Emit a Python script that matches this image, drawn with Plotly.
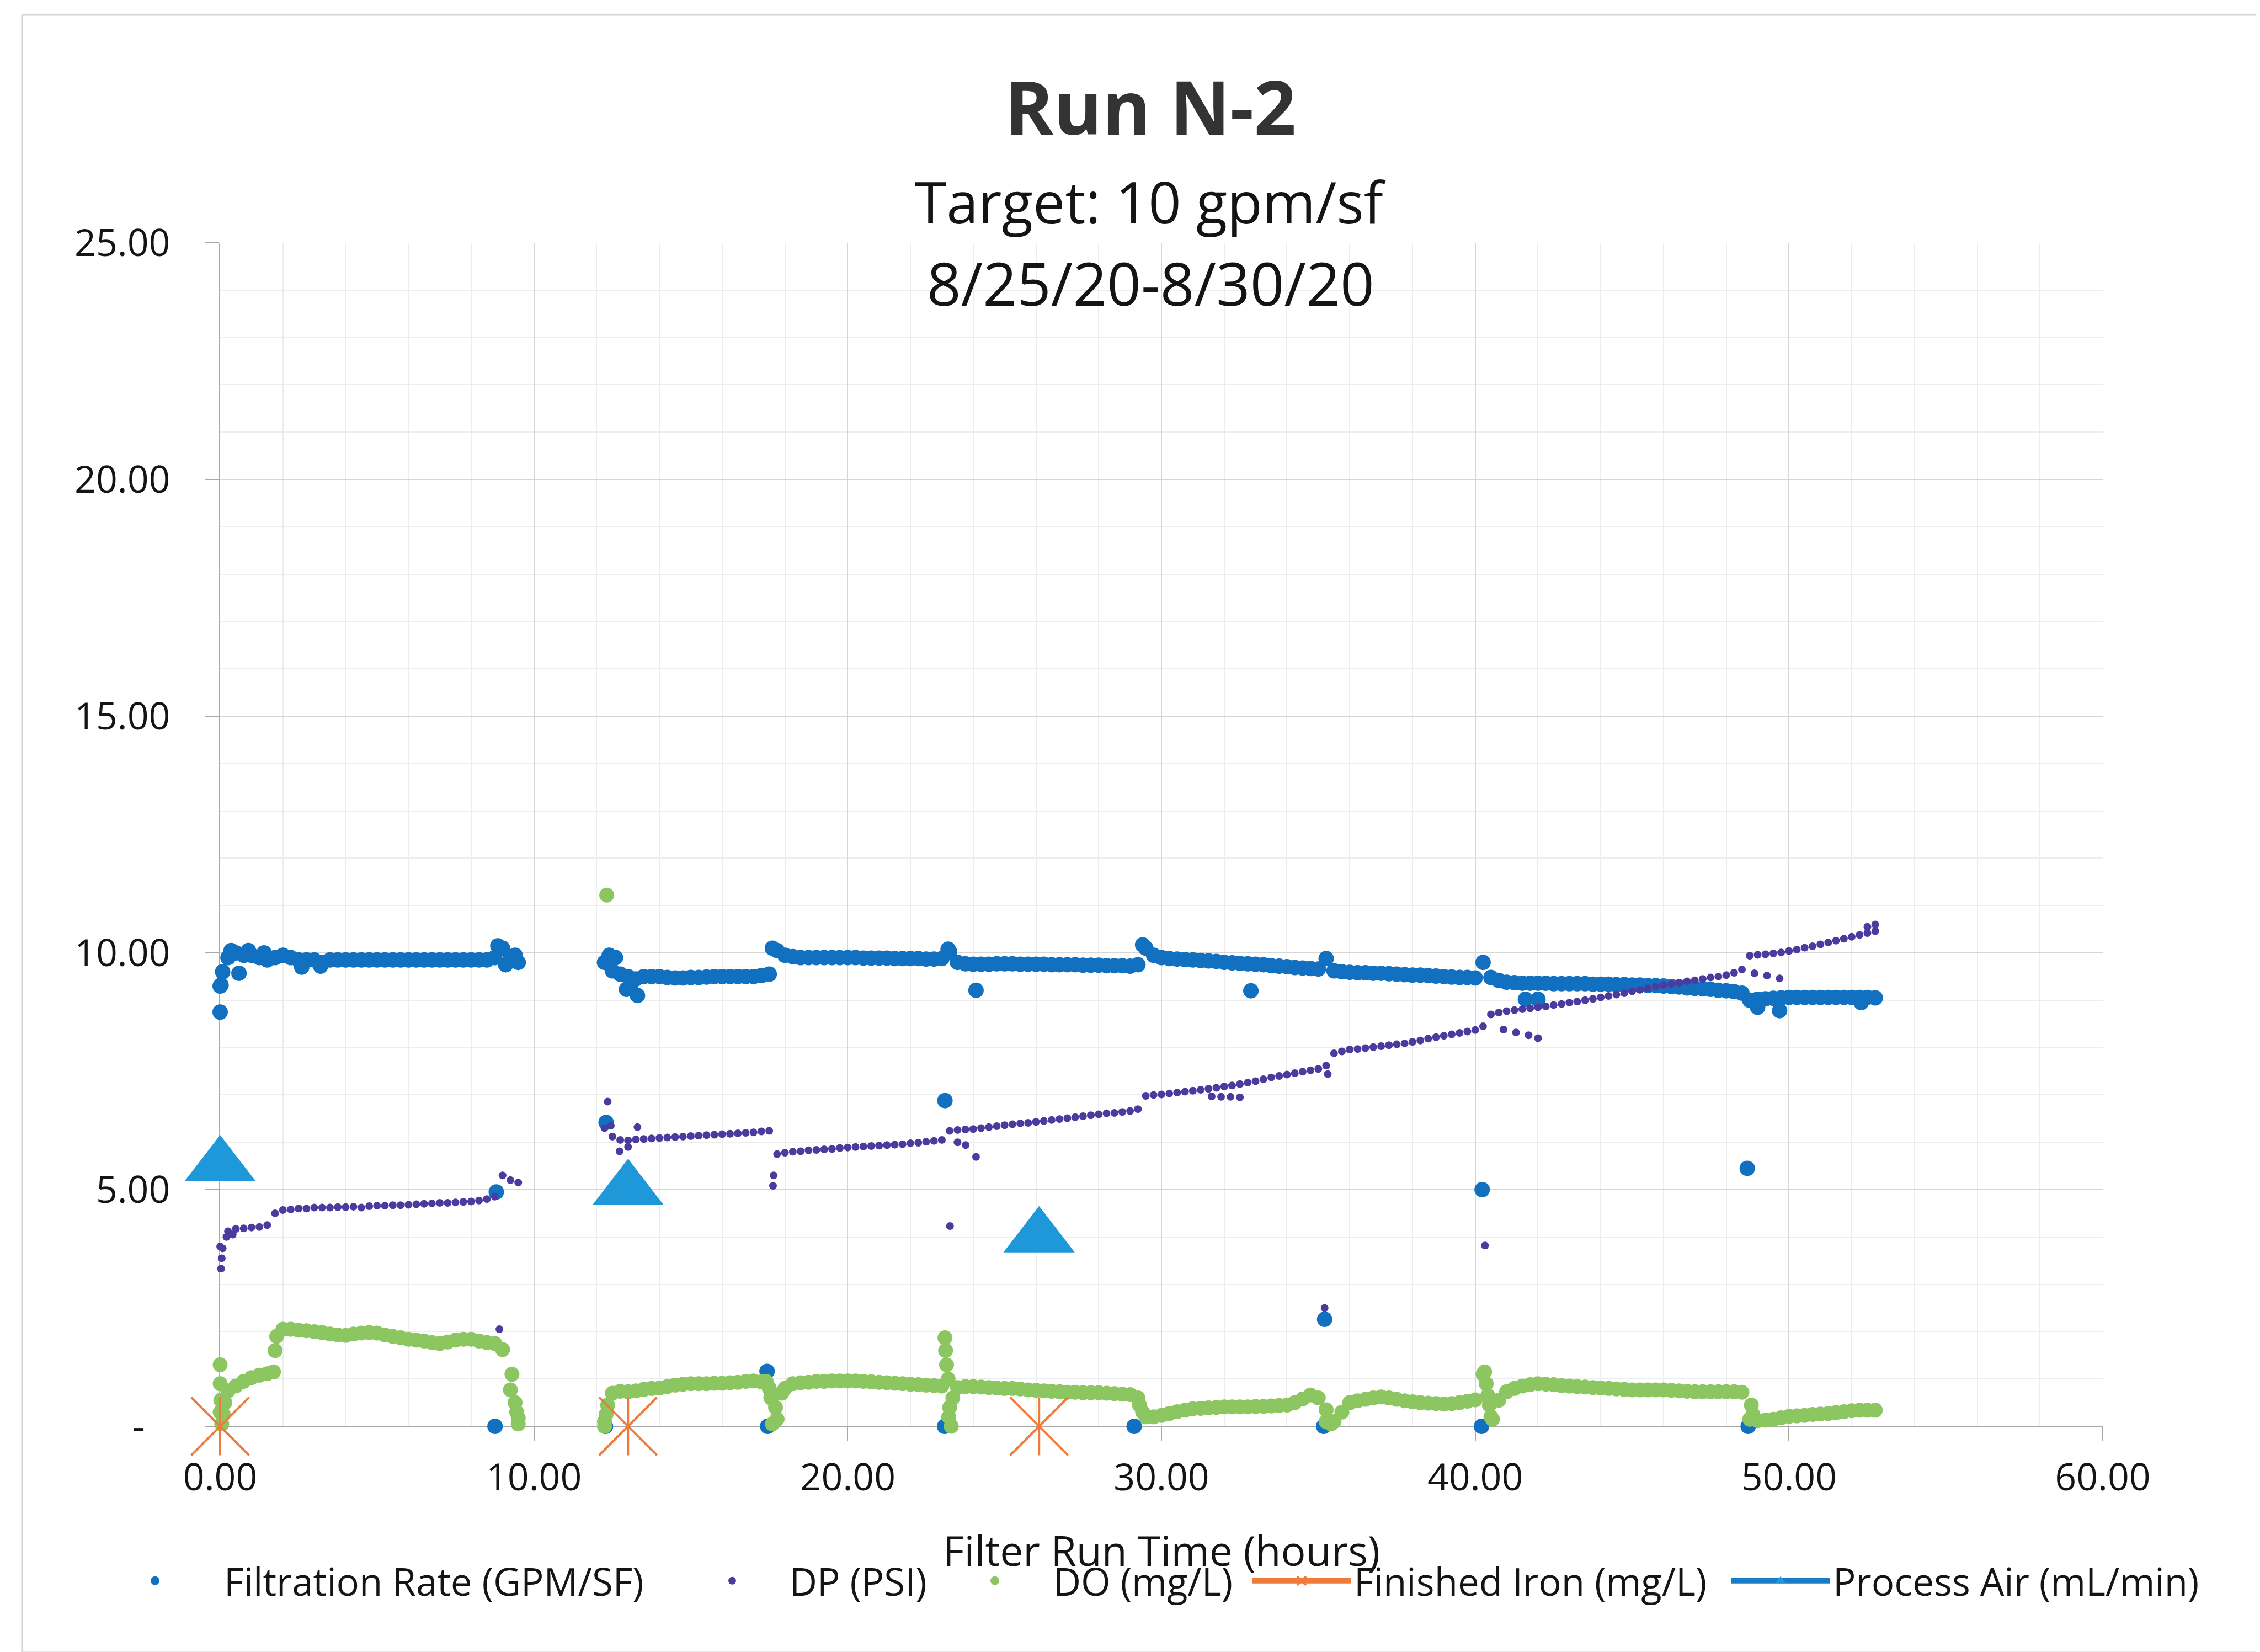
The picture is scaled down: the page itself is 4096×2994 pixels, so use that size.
import plotly.graph_objects as go

# ---------------- data ----------------
hours = [
    0.00, 0.25, 0.50, 0.75,
    1.00, 1.25, 1.50, 1.75,
    2.00, 2.25, 2.50, 2.75,
    3.00, 3.25, 3.50, 3.75,
    4.00, 4.25, 4.50, 4.75,
    5.00, 5.25, 5.50, 5.75,
    6.00, 6.25, 6.50, 6.75,
    7.00, 7.25, 7.50, 7.75,
    8.00, 8.25, 8.50, 8.75,
    9.00, 9.25, 9.50,
    12.25, 12.50, 12.75,
    13.00, 13.25, 13.50, 13.75,
    14.00, 14.25, 14.50, 14.75,
    15.00, 15.25, 15.50, 15.75,
    16.00, 16.25, 16.50, 16.75,
    17.00, 17.25, 17.50, 17.75,
    18.00, 18.25, 18.50, 18.75,
    19.00, 19.25, 19.50, 19.75,
    20.00, 20.25, 20.50, 20.75,
    21.00, 21.25, 21.50, 21.75,
    22.00, 22.25, 22.50, 22.75,
    23.00, 23.25, 23.50, 23.75,
    24.00, 24.25, 24.50, 24.75,
    25.00, 25.25, 25.50, 25.75,
    26.00, 26.25, 26.50, 26.75,
    27.00, 27.25, 27.50, 27.75,
    28.00, 28.25, 28.50, 28.75,
    29.00, 29.25, 29.50, 29.75,
    30.00, 30.25, 30.50, 30.75,
    31.00, 31.25, 31.50, 31.75,
    32.00, 32.25, 32.50, 32.75,
    33.00, 33.25, 33.50, 33.75,
    34.00, 34.25, 34.50, 34.75,
    35.00, 35.25, 35.50, 35.75,
    36.00, 36.25, 36.50, 36.75,
    37.00, 37.25, 37.50, 37.75,
    38.00, 38.25, 38.50, 38.75,
    39.00, 39.25, 39.50, 39.75,
    40.00, 40.25, 40.50, 40.75,
    41.00, 41.25, 41.50, 41.75,
    42.00, 42.25, 42.50, 42.75,
    43.00, 43.25, 43.50, 43.75,
    44.00, 44.25, 44.50, 44.75,
    45.00, 45.25, 45.50, 45.75,
    46.00, 46.25, 46.50, 46.75,
    47.00, 47.25, 47.50, 47.75,
    48.00, 48.25, 48.50, 48.75,
    49.00, 49.25, 49.50, 49.75,
    50.00, 50.25, 50.50, 50.75,
    51.00, 51.25, 51.50, 51.75,
    52.00, 52.25, 52.50, 52.75,
]

filtration_rate = [
    9.30, 9.90, 10.00, 9.95,
    9.95, 9.90, 9.85, 9.90,
    9.95, 9.90, 9.85, 9.85,
    9.85, 9.80, 9.85, 9.85,
    9.85, 9.85, 9.85, 9.85,
    9.85, 9.85, 9.85, 9.85,
    9.85, 9.85, 9.85, 9.85,
    9.85, 9.85, 9.85, 9.85,
    9.85, 9.85, 9.85, 9.90,
    10.10, 9.90, 9.80,
    9.80, 9.62, 9.55,
    9.50, 9.45, 9.50, 9.50,
    9.50, 9.48, 9.47, 9.47,
    9.48, 9.48, 9.49, 9.50,
    9.50, 9.50, 9.50, 9.50,
    9.50, 9.52, 9.55, 10.05,
    9.95, 9.92, 9.90, 9.90,
    9.90, 9.90, 9.90, 9.90,
    9.90, 9.90, 9.89, 9.89,
    9.89, 9.89, 9.88, 9.88,
    9.88, 9.88, 9.87, 9.87,
    9.88, 10.02, 9.80, 9.77,
    9.76, 9.76, 9.76, 9.77,
    9.77, 9.77, 9.76, 9.76,
    9.76, 9.76, 9.75, 9.75,
    9.75, 9.75, 9.74, 9.74,
    9.74, 9.73, 9.73, 9.73,
    9.72, 9.75, 10.10, 9.95,
    9.90, 9.88, 9.87, 9.86,
    9.85, 9.84, 9.83, 9.82,
    9.80, 9.79, 9.78, 9.77,
    9.76, 9.75, 9.73, 9.72,
    9.71, 9.69, 9.68, 9.67,
    9.66, 9.88, 9.62, 9.60,
    9.59, 9.58, 9.58, 9.57,
    9.57, 9.56, 9.55, 9.54,
    9.53, 9.53, 9.52, 9.51,
    9.50, 9.49, 9.48, 9.48,
    9.47, 9.80, 9.48, 9.42,
    9.38, 9.37, 9.36, 9.36,
    9.36, 9.36, 9.35, 9.35,
    9.35, 9.35, 9.35, 9.34,
    9.34, 9.34, 9.33, 9.33,
    9.32, 9.32, 9.31, 9.31,
    9.30, 9.29, 9.28, 9.26,
    9.25, 9.24, 9.23, 9.21,
    9.20, 9.18, 9.15, 9.00,
    9.02, 9.03, 9.04, 9.05,
    9.06, 9.06, 9.06, 9.06,
    9.06, 9.06, 9.06, 9.06,
    9.06, 9.06, 9.06, 9.05,
]

dp_psi = [
    3.80, 4.12, 4.17, 4.18,
    4.20, 4.21, 4.25, 4.50,
    4.57, 4.58, 4.60, 4.60,
    4.62, 4.62, 4.62, 4.63,
    4.63, 4.64, 4.62, 4.65,
    4.66, 4.66, 4.67, 4.67,
    4.68, 4.69, 4.70, 4.71,
    4.72, 4.72, 4.73, 4.74,
    4.75, 4.77, 4.80, 4.85,
    5.30, 5.20, 5.15,
    6.30, 6.12, 6.05,
    6.04, 6.06, 6.07, 6.08,
    6.09, 6.10, 6.11, 6.12,
    6.13, 6.14, 6.15, 6.16,
    6.17, 6.18, 6.19, 6.20,
    6.21, 6.23, 6.24, 5.75,
    5.78, 5.80, 5.81, 5.83,
    5.84, 5.85, 5.86, 5.88,
    5.89, 5.90, 5.91, 5.92,
    5.93, 5.94, 5.95, 5.96,
    5.98, 5.99, 6.01, 6.03,
    6.05, 6.24, 6.26, 6.27,
    6.28, 6.30, 6.32, 6.34,
    6.36, 6.38, 6.40, 6.41,
    6.43, 6.45, 6.47, 6.49,
    6.51, 6.53, 6.55, 6.57,
    6.59, 6.61, 6.62, 6.64,
    6.66, 6.70, 6.98, 7.00,
    7.01, 7.03, 7.05, 7.07,
    7.09, 7.11, 7.13, 7.15,
    7.18, 7.20, 7.23, 7.26,
    7.29, 7.33, 7.37, 7.40,
    7.43, 7.46, 7.49, 7.52,
    7.55, 7.62, 7.88, 7.92,
    7.96, 7.97, 7.99, 8.01,
    8.03, 8.05, 8.07, 8.09,
    8.12, 8.15, 8.19, 8.22,
    8.25, 8.28, 8.31, 8.34,
    8.37, 8.45, 8.70, 8.74,
    8.77, 8.79, 8.81, 8.83,
    8.85, 8.87, 8.90, 8.92,
    8.95, 8.97, 9.00, 9.03,
    9.06, 9.09, 9.12, 9.15,
    9.19, 9.22, 9.25, 9.29,
    9.32, 9.34, 9.37, 9.40,
    9.42, 9.45, 9.48, 9.50,
    9.53, 9.58, 9.65, 9.94,
    9.96, 9.97, 9.99, 10.01,
    10.04, 10.07, 10.11, 10.14,
    10.18, 10.22, 10.26, 10.30,
    10.34, 10.38, 10.42, 10.46,
]

do_mgl = [
    0.30, 0.75, 0.85, 0.95,
    1.03, 1.08, 1.11, 1.60,
    2.05, 2.05, 2.03, 2.02,
    2.00, 1.98, 1.95, 1.93,
    1.92, 1.95, 1.97, 1.98,
    1.97, 1.93, 1.90, 1.87,
    1.84, 1.82, 1.80, 1.77,
    1.75, 1.78, 1.82, 1.84,
    1.84, 1.80, 1.77, 1.75,
    1.62, 0.77, 0.17,
    0.10, 0.70, 0.74,
    0.73, 0.75, 0.78, 0.80,
    0.81, 0.84, 0.87, 0.89,
    0.90, 0.90, 0.90, 0.91,
    0.91, 0.92, 0.93, 0.95,
    0.96, 0.94, 0.80, 0.15,
    0.80, 0.90, 0.92, 0.93,
    0.95, 0.95, 0.96, 0.96,
    0.96, 0.96, 0.95, 0.94,
    0.93, 0.92, 0.91, 0.90,
    0.89, 0.88, 0.87, 0.86,
    0.85, 0.40, 0.82, 0.84,
    0.84, 0.83, 0.82, 0.81,
    0.80, 0.80, 0.79, 0.77,
    0.76, 0.75, 0.74, 0.73,
    0.72, 0.72, 0.71, 0.71,
    0.71, 0.70, 0.69, 0.68,
    0.67, 0.60, 0.20, 0.20,
    0.23, 0.27, 0.31, 0.34,
    0.37, 0.38, 0.39, 0.40,
    0.41, 0.41, 0.41, 0.41,
    0.42, 0.42, 0.43, 0.44,
    0.45, 0.50, 0.58, 0.66,
    0.60, 0.10, 0.10, 0.30,
    0.50, 0.54, 0.57, 0.60,
    0.62, 0.60, 0.57, 0.54,
    0.52, 0.50, 0.49, 0.48,
    0.47, 0.48, 0.50, 0.53,
    0.56, 1.10, 0.20, 0.55,
    0.73, 0.80, 0.85, 0.88,
    0.90, 0.89, 0.88, 0.86,
    0.85, 0.84, 0.83, 0.82,
    0.81, 0.80, 0.79, 0.78,
    0.77, 0.77, 0.77, 0.77,
    0.77, 0.76, 0.75, 0.74,
    0.73, 0.73, 0.73, 0.73,
    0.73, 0.73, 0.72, 0.15,
    0.12, 0.13, 0.15, 0.18,
    0.21, 0.22, 0.23, 0.25,
    0.26, 0.27, 0.29, 0.31,
    0.33, 0.34, 0.34, 0.34,
]

# isolated readings (spikes, backwash zeros, outliers)
fr_extra_hours = [0.00, 0.03, 0.08, 0.60, 0.35, 0.90, 1.40, 2.60, 3.20,
                  8.76, 8.80, 8.85, 9.10, 9.40,
                  12.28, 12.30, 12.40, 12.60, 12.95, 13.30, 13.10,
                  17.43, 17.45, 17.60,
                  23.09, 23.10, 23.20, 24.09,
                  29.13, 29.40, 32.85,
                  35.17, 35.20,
                  40.20, 40.22, 41.60, 42.00,
                  48.67, 48.70, 49.00, 49.70, 52.30]
fr_extra_values = [8.75, 9.32, 9.60, 9.57, 10.05, 10.05, 10.00, 9.70, 9.72,
                   0.00, 4.95, 10.15, 9.75, 9.95,
                   0.00, 6.42, 9.95, 9.90, 9.23, 9.10, 9.35,
                   1.16, 0.00, 10.10,
                   0.00, 6.88, 10.08, 9.21,
                   0.00, 10.17, 9.20,
                   0.00, 2.26,
                   0.00, 5.00, 9.02, 9.02,
                   5.45, 0.00, 8.85, 8.78, 8.95]

dp_extra_hours = [0.03, 0.05, 0.08, 0.20, 0.40, 8.90,
                  12.35, 12.45, 12.73, 13.00, 13.30, 17.62, 17.64,
                  23.26, 23.50, 23.76, 24.09,
                  31.60, 31.90, 32.20, 32.50, 35.20, 35.30,
                  40.31, 40.90, 41.30, 41.70, 42.00,
                  48.90, 49.30, 49.70, 52.50, 52.75]
dp_extra_values = [3.33, 3.55, 3.76, 4.00, 4.05, 2.05,
                   6.86, 6.35, 5.81, 5.90, 6.32, 5.08, 5.30,
                   4.23, 6.00, 5.94, 5.69,
                   6.97, 6.96, 6.96, 6.95, 2.50, 7.44,
                   3.82, 8.38, 8.32, 8.26, 8.20,
                   9.57, 9.52, 9.46, 10.55, 10.60]

do_extra_hours = [0.00, 0.00, 0.02, 0.05, 0.10, 0.15, 1.70, 1.80,
                  9.30, 9.40, 9.45, 9.50,
                  12.25, 12.30, 12.32, 12.35,
                  17.40, 17.55, 17.60, 17.70, 17.90,
                  23.10, 23.12, 23.15, 23.20, 23.22, 23.30, 23.35,
                  29.30, 29.40, 35.25, 35.40,
                  40.30, 40.35, 40.40, 40.45, 40.55,
                  48.80, 48.85]
do_extra_values = [1.30, 0.90, 0.55, 0.05, 0.25, 0.50, 1.15, 1.90,
                   1.10, 0.50, 0.30, 0.05,
                   0.00, 0.25, 11.22, 0.45,
                   0.95, 0.60, 0.05, 0.40, 0.70,
                   1.87, 1.60, 1.30, 1.00, 0.20, 0.00, 0.60,
                   0.45, 0.30, 0.35, 0.05,
                   1.15, 0.90, 0.65, 0.45, 0.15,
                   0.45, 0.25]

iron_hours = [0.0, 13.0, 26.1]
iron_values = [0.0, 0.0, 0.0]

air_hours = [0.0, 13.0, 26.1]
air_values = [5.5, 5.0, 4.0]

x_tick_vals = [0, 10, 20, 30, 40, 50, 60]
x_tick_text = ["0.00", "10.00", "20.00", "30.00", "40.00", "50.00", "60.00"]
y_tick_vals = [0, 5, 10, 15, 20, 25]
y_tick_text = ["-\u00a0\u00a0\u2009", "5.00", "10.00", "15.00", "20.00", "25.00"]

# ---------------- styling ----------------
FONT = "Open Sans"
C_FR = "#1170C0"
C_DP = "#4A3C9F"
C_DO = "#8CC660"
C_IRON = "#F07A3A"
C_AIR = "#1E98D8"
C_AIR_LINE = "#1A7CC6"


def isolated(seq):
    """Put a gap between readings so no connecting line is drawn."""
    out = []
    for v in seq:
        out.extend([v, None])
    return out[:-1]


fig = go.Figure()

fig.add_trace(go.Scatter(
    x=hours + fr_extra_hours, y=filtration_rate + fr_extra_values,
    mode="markers", name="Filtration Rate (GPM/SF)",
    marker=dict(size=28, color=C_FR), cliponaxis=False, legend="legend"))

fig.add_trace(go.Scatter(
    x=hours + dp_extra_hours, y=dp_psi + dp_extra_values,
    mode="markers", name="DP (PSI)",
    marker=dict(size=14, color=C_DP), cliponaxis=False, legend="legend2"))

fig.add_trace(go.Scatter(
    x=hours + do_extra_hours, y=do_mgl + do_extra_values,
    mode="markers", name="DO (mg/L)",
    marker=dict(size=27, color=C_DO), cliponaxis=False, legend="legend3"))

fig.add_trace(go.Scatter(
    x=isolated(iron_hours), y=isolated(iron_values),
    mode="lines+markers", name="Finished Iron (mg/L)", connectgaps=False,
    line=dict(color=C_IRON, width=12),
    marker=dict(symbol="x-thin", size=105, color=C_IRON,
                line=dict(color=C_IRON, width=4)),
    cliponaxis=False, legend="legend4"))

fig.add_trace(go.Scatter(
    x=iron_hours, y=iron_values, mode="markers", showlegend=False,
    name="Finished Iron (mg/L)",
    marker=dict(symbol="line-ns", size=75, color=C_IRON,
                line=dict(color=C_IRON, width=4)),
    cliponaxis=False))

fig.add_trace(go.Scatter(
    x=isolated(air_hours), y=isolated(air_values),
    mode="lines+markers", name="Process Air (mL/min)", connectgaps=False,
    line=dict(color=C_AIR_LINE, width=12),
    marker=dict(symbol="triangle-up", size=112, color=C_AIR),
    cliponaxis=False, legend="legend5"))

W, H = 4096, 2994
ML, MR, MT, MB = 391, 293, 432, 417
PW, PH = W - ML - MR, H - MT - MB


def px_x(p):
    return (p - ML) / PW


def px_y(p):
    return (H - MB - p) / PH


legend_y = px_y(2857)
legend_font = dict(family=FONT, size=69, color="#141414")


def legend_box(x_px, itemwidth):
    return dict(x=px_x(x_px), xanchor="left", y=legend_y, yanchor="middle",
                orientation="h", font=legend_font, itemwidth=itemwidth,
                bgcolor="rgba(0,0,0,0)", borderwidth=0)


axis_common = dict(
    showline=True, linecolor="#A8A8A8", linewidth=2,
    ticks="outside", tickcolor="#A8A8A8", tickwidth=2,
    showgrid=True, gridcolor="#D6D6D6", gridwidth=2,
    zeroline=False, layer="below traces",
    tickfont=dict(family=FONT, size=68, color="#141414"),
)

frame = dict(color="#D4D4D4", width=3)

fig.update_layout(
    width=W, height=H,
    margin=dict(l=ML, r=MR, t=MT, b=MB, autoexpand=False),
    paper_bgcolor="white", plot_bgcolor="white",
    font=dict(family=FONT, color="#141414"),
    xaxis=dict(
        range=[0, 60], tickvals=x_tick_vals, ticktext=x_tick_text,
        ticklen=24, ticklabelstandoff=8,
        minor=dict(dtick=2, showgrid=True, gridcolor="#EDEDED", gridwidth=2, ticks=""),
        title=dict(text="Filter Run Time (hours)", standoff=66,
                   font=dict(family=FONT, size=75, color="#141414")),
        **axis_common),
    yaxis=dict(
        range=[0, 25], tickvals=y_tick_vals, ticktext=y_tick_text,
        ticklen=25, ticklabelstandoff=50,
        minor=dict(dtick=1, showgrid=True, gridcolor="#EDEDED", gridwidth=2, ticks=""),
        **axis_common),
    legend=legend_box(148, 240),
    legend2=legend_box(1215, 198),
    legend3=legend_box(1689, 202),
    legend4=legend_box(2256, 180),
    legend5=legend_box(3124, 180),
    annotations=[
        dict(text="Run N-2", xref="paper", yref="paper", x=px_x(2077), y=px_y(184),
             xanchor="center", yanchor="middle", showarrow=False,
             font=dict(family=FONT, size=134, color="#333333", weight="bold")),
        dict(text="Target: 10 gpm/sf", xref="paper", yref="paper", x=px_x(2077), y=px_y(356),
             xanchor="center", yanchor="middle", showarrow=False,
             font=dict(family=FONT, size=104, color="#141414")),
        dict(text="8/25/20-8/30/20", xref="paper", yref="paper", x=px_x(2077), y=px_y(505),
             xanchor="center", yanchor="middle", showarrow=False,
             font=dict(family=FONT, size=108, color="#141414")),
    ],
    shapes=[
        dict(type="line", xref="paper", yref="paper", layer="below",
             x0=px_x(32), x1=px_x(32), y0=px_y(2987), y1=px_y(19), line=frame),
        dict(type="line", xref="paper", yref="paper", layer="below",
             x0=px_x(32), x1=px_x(4096), y0=px_y(19), y1=px_y(19), line=frame),
        dict(type="line", xref="paper", yref="paper", layer="below",
             x0=px_x(32), x1=px_x(4096), y0=px_y(2987), y1=px_y(2987), line=frame),
    ],
)

fig.write_html("out.html")
